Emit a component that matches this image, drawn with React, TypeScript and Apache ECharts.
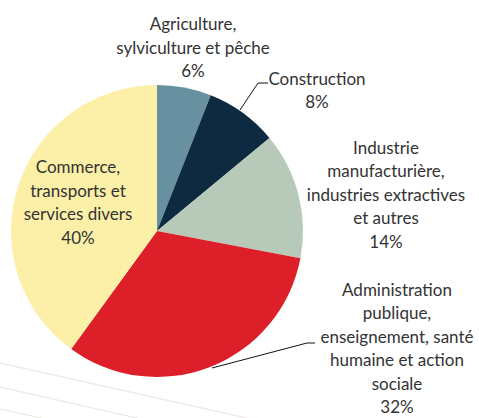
import React, { useEffect, useRef } from "react";
import * as echarts from "echarts";

const categories = [
  "Agriculture,\nsylviculture et pêche",
  "Construction",
  "Industrie\nmanufacturière,\nindustries extractives\net autres",
  "Administration\npublique,\nenseignement, santé\nhumaine et action\nsociale",
  "Commerce,\ntransports et\nservices divers",
];
const values = [6, 8, 14, 32, 40];
const colors = ["#6791a0", "#0d2a40", "#b7cab9", "#dc1f28", "#fcefa8"];

// label placement (layout only)
const labelPos = [
  { x: 193, y: 47, line: null },
  { x: 317, y: 90, line: [[240, 110], [258, 83], [268, 83]] },
  { x: 386, y: 194, line: null },
  { x: 397, y: 348, line: [[212, 368], [307, 343], [315, 343]] },
  { x: 78, y: 202, line: null },
];

export default function App() {
  const ref = useRef<HTMLDivElement>(null);
  useEffect(() => {
    document.body.style.margin = "0";
    const chart = echarts.init(ref.current!, null, { renderer: "svg" });
    chart.setOption({
      animation: false,
      backgroundColor: "#ffffff",
      textStyle: { fontFamily: "Lato" },
      graphic: [
        { type: "line", z: -10, shape: { x1: 0, y1: 363, x2: 260, y2: 421 }, style: { stroke: "#e9e3de", lineWidth: 1 } },
        { type: "line", z: -10, shape: { x1: 0, y1: 387, x2: 150, y2: 421 }, style: { stroke: "#e9e3de", lineWidth: 1 } },
        { type: "line", z: -10, shape: { x1: 0, y1: 409, x2: 55, y2: 421 }, style: { stroke: "#e9e3de", lineWidth: 1 } },
      ],
      series: [
        {
          type: "pie",
          center: [157, 231],
          radius: 146,
          startAngle: 90,
          clockwise: true,
          avoidLabelOverlap: false,
          itemStyle: { borderWidth: 0 },
          emphasis: { disabled: true },
          data: categories.map((name, i) => ({
            name,
            value: values[i],
            itemStyle: { color: colors[i] },
            labelLine: { show: !!labelPos[i].line },
          })),
          label: {
            show: true,
            position: "outside",
            formatter: (p: any) => `${p.name}\n${p.value}%`,
            fontFamily: "Lato",
            fontSize: 17,
            lineHeight: 23.5,
            color: "#333333",
            align: "center",
          },
          labelLine: {
            show: true,
            lineStyle: { color: "#111111", width: 1 },
          },
          labelLayout: (params: any) => {
            const lp = labelPos[params.dataIndex];
            const out: any = {
              x: lp.x,
              y: lp.y,
              align: "center",
              verticalAlign: "middle",
              hideOverlap: false,
            };
            if (lp.line) out.labelLinePoints = lp.line;
            return out;
          },
        },
      ],
    });
    return () => chart.dispose();
  }, []);
  return <div ref={ref} style={{ width: 479, height: 418 }} />;
}
